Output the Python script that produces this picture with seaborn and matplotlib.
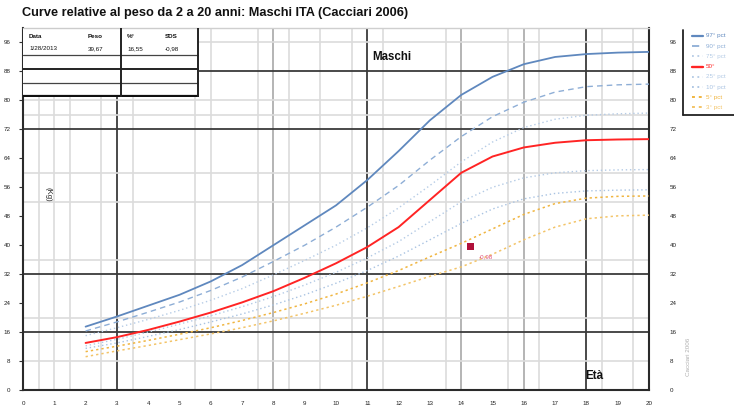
import matplotlib
matplotlib.use("Agg")
import matplotlib.pyplot as plt
from matplotlib.lines import Line2D
import pandas as pd
import seaborn as sns

# Weight percentiles (kg) for Italian males, ages 2-20 (Cacciari 2006)
ages = list(range(2, 21))
p97 = [17.5, 20.3, 23.3, 26.3, 30.0, 34.5, 40.0, 45.5, 51.0, 58.0, 66.0, 74.5, 81.5, 86.5, 90.0, 92.0, 92.8, 93.2, 93.4]
p90 = [16.3, 18.8, 21.5, 24.3, 27.5, 31.2, 35.5, 40.0, 45.0, 50.5, 56.5, 63.5, 70.0, 75.5, 79.5, 82.3, 83.8, 84.3, 84.5]
p75 = [15.0, 17.2, 19.5, 22.0, 24.8, 28.0, 31.8, 35.8, 40.0, 44.8, 50.3, 56.5, 63.0, 68.5, 72.5, 74.8, 75.9, 76.3, 76.5]
p50 = [13.0, 14.6, 16.6, 18.9, 21.4, 24.2, 27.3, 31.0, 35.0, 39.5, 45.0, 52.5, 60.0, 64.5, 67.0, 68.3, 69.0, 69.2, 69.3]
p25 = [12.2, 14.0, 16.0, 18.2, 20.5, 23.0, 25.8, 29.0, 32.5, 36.5, 41.0, 46.5, 52.0, 56.0, 58.6, 60.0, 60.6, 60.8, 60.9]
p10 = [11.5, 13.0, 14.8, 16.7, 18.8, 21.0, 23.5, 26.3, 29.5, 33.0, 37.0, 41.5, 46.0, 50.0, 52.8, 54.3, 55.0, 55.2, 55.3]
p5 = [10.6, 12.1, 13.7, 15.4, 17.2, 19.2, 21.4, 23.8, 26.5, 29.6, 33.0, 36.8, 40.5, 44.5, 48.5, 51.5, 53.0, 53.5, 53.6]
p3 = [9.2, 10.8, 12.3, 13.9, 15.5, 17.2, 19.1, 21.2, 23.4, 25.9, 28.6, 31.4, 34.0, 37.5, 41.5, 45.0, 47.3, 48.1, 48.3]

series_names = ["97° pct", "90° pct", "75° pct", "50°", "25° pct", "10° pct", "5° pct", "3° pct"]
series_values = [p97, p90, p75, p50, p25, p10, p5, p3]
series_colors = ["#5f88be", "#8eaed6", "#b6cce6", "#ff2424", "#b3cae5", "#a9c3e2", "#f0b540", "#f3c468"]
series_styles = ["-", (0, (4, 3)), (0, (1, 2)), "-", (0, (1, 2)), (0, (1, 2)), (0, (1.5, 2)), (0, (1.5, 2))]
series_widths = [1.3, 1.0, 1.0, 1.4, 1.0, 1.0, 1.1, 1.1]

# Patient measurement
patient_age = [14.3]
patient_weight = [39.6]
patient_sds = "-0,98"
table_head = ["Data", "Peso", "%°", "SDS"]
table_vals = ["1/28/2013", "39,67", "16,55", "-0,98"]

x_ticks = list(range(0, 21))
y_ticks = list(range(0, 97, 8))

# Reference grid
grid_v_light = [0.5, 1, 1.5, 2.5, 3.5, 5.5, 6, 7.5, 8.5, 9.5, 10.5, 11.5, 13.5, 15.5, 16.5, 18.5, 19.5]
grid_v_mid = [8, 14, 16]
grid_v_dark = [3, 11, 18]
grid_h_light = [8, 20, 36, 52, 60, 76, 80, 96]
grid_h_dark = [16, 32, 72, 88]

W, H = 734, 411
sns.set_theme(style="white")
plt.rcParams["font.family"] = ["Liberation Sans", "DejaVu Sans"]

fig = plt.figure(figsize=(W / 100, H / 100), dpi=100)
fig.patch.set_facecolor("white")


def fx(px):
    return px / W


def fy(py):
    return 1 - py / H


ax = fig.add_axes([fx(23), fy(390), fx(649) - fx(23), fy(28) - fy(390)])
ax.set_xlim(0, 20)
ax.set_ylim(0, 100)

for v in grid_v_light:
    ax.axvline(v, color="#dcdcdc", lw=1.2, zorder=0)
for v in grid_v_mid:
    ax.axvline(v, color="#a8a8a8", lw=1.2, zorder=0)
for v in grid_v_dark:
    ax.axvline(v, color="#3a3a3a", lw=1.3, zorder=0)
for h in grid_h_light:
    ax.axhline(h, color="#dcdcdc", lw=1.2, zorder=0)
for h in grid_h_dark:
    ax.axhline(h, color="#3a3a3a", lw=1.3, zorder=0)

for name, vals, col, ls, lw in zip(series_names, series_values, series_colors, series_styles, series_widths):
    df = pd.DataFrame({"age": ages, "kg": vals})
    sns.lineplot(data=df, x="age", y="kg", ax=ax, color=col, linestyle=ls, lw=lw, zorder=3)

sns.scatterplot(x=patient_age, y=patient_weight, ax=ax, marker="s", s=22, color="#b0103a",
                edgecolor="none", zorder=5)
ax.text(patient_age[0] + 0.25, patient_weight[0] - 3.3, patient_sds, fontsize=4.5,
        color="#e0507a", zorder=5)

ax.text(11.15, 91.2, "Maschi", fontsize=8.3, fontweight="bold", color="#111111")
ax.text(17.95, 3.0, "Età", fontsize=8.5, fontweight="bold", color="#111111")
ax.text(0.8, 54, "(Kg)", fontsize=5.5, rotation=-90, ha="center", va="center", color="#222222")

ax.set_xlabel("")
ax.set_ylabel("")
ax.set_xticks(x_ticks)
ax.set_yticks(y_ticks)
ax.set_xticklabels([str(t) for t in x_ticks], fontsize=4.5, color="#222222")
ax.set_yticklabels([str(t) for t in y_ticks], fontsize=4.5, color="#222222")
ax.tick_params(axis="x", length=0, pad=8)
ax.tick_params(axis="y", length=3, width=0.8, color="#333333", pad=6)

for side in ["left", "bottom", "right"]:
    ax.spines[side].set_color("#2a2a2a")
    ax.spines[side].set_linewidth(1.5)
ax.spines["top"].set_color("#cfcfcf")
ax.spines["top"].set_linewidth(1.0)

ax2 = ax.twinx()
ax2.set_ylim(0, 100)
ax2.set_yticks(y_ticks)
ax2.set_yticklabels([str(t) for t in y_ticks], fontsize=4.5, color="#222222")
ax2.tick_params(axis="y", length=0, pad=15)
for s in ax2.spines.values():
    s.set_visible(False)
ax2.grid(False)

# Patient data table in the upper-left corner
tab = fig.add_axes([fx(23), fy(97), fx(199) - fx(23), fy(28) - fy(97)])
tab.set_xlim(23, 199)
tab.set_ylim(97, 28)
tab.set_facecolor("white")
tab.set_xticks([])
tab.set_yticks([])
for s in tab.spines.values():
    s.set_visible(False)
tab.plot([23, 199], [28.5, 28.5], color="#cccccc", lw=1.0)
tab.plot([23, 199], [55, 55], color="#444444", lw=0.9)
tab.plot([23, 199], [69.5, 69.5], color="#222222", lw=1.4)
tab.plot([23, 199], [83, 83], color="#444444", lw=0.9)
tab.plot([23, 199], [96.3, 96.3], color="#111111", lw=1.6)
tab.plot([121, 121], [28, 97], color="#222222", lw=1.4)
tab.plot([198.3, 198.3], [28, 97], color="#222222", lw=1.4)
head_x = [29, 88, 127, 165]
for xp, hd, vl in zip(head_x, table_head, table_vals):
    tab.text(xp, 37, hd, fontsize=4.5, fontweight="bold", va="center", color="#111111")
    tab.text(xp, 49, vl, fontsize=4.5, va="center", color="#111111")

# Title
fig.text(fx(22), fy(13), "Curve relative al peso da 2 a 20 anni: Maschi ITA (Cacciari 2006)",
         fontsize=9.2, fontweight="bold", va="center", ha="left", color="#111111")

# Legend drawn at the right edge
fig.add_artist(Line2D([fx(683), fx(683)], [fy(30), fy(115)], color="#222222", lw=1.3))
fig.add_artist(Line2D([fx(683), fx(734)], [fy(115), fy(115)], color="#222222", lw=1.3))
row0, step = 36, 10.2
for i, (name, col, ls, lw) in enumerate(zip(series_names, series_colors, series_styles, series_widths)):
    yy = fy(row0 + i * step)
    fig.add_artist(Line2D([fx(692), fx(703)], [yy, yy], color=col, linestyle=ls, lw=lw + 0.3))
    fig.text(fx(706), yy, name, fontsize=4.5, color=col, va="center", ha="left")

fig.text(fx(688), fy(357), "Cacciari 2006", fontsize=4.5, rotation=90, color="#b0b0b0",
         ha="center", va="center")

fig.savefig("out.png", dpi=100, facecolor="white")
